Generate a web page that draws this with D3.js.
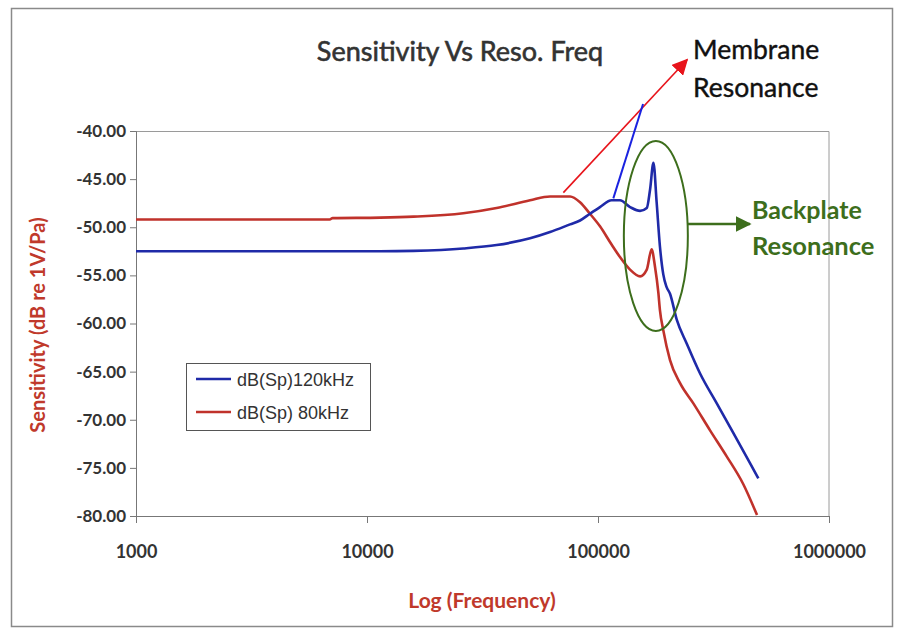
<!DOCTYPE html>
<html>
<head>
<meta charset="utf-8">
<script src="https://cdn.jsdelivr.net/npm/d3@7"></script>
<style>
  html, body { margin: 0; padding: 0; background: #fff; }
  svg { display: block; }
</style>
</head>
<body>
<svg id="chart" width="900" height="631"></svg>
<script>
// Frequency response of two microphone designs (sensitivity in dB re 1V/Pa)
const freq120 = [1000, 5000, 11400, 15900, 26100, 36400, 50800, 62000, 75700, 83600, 92300, 102000,
  114500, 124500, 137600, 152100, 162600, 168000, 173800, 179400, 185400, 191700, 198000, 205000,
  219200, 242300, 276600, 326700, 385700, 455000, 494400];
const db120 = [-52.5, -52.5, -52.5, -52.45, -52.2, -51.85, -51.15, -50.5, -49.7, -49.3, -48.6, -47.9,
  -47.2, -47.2, -47.9, -48.3, -48.0, -46.1, -43.3, -47.4, -52.0, -54.9, -56.2, -56.9,
  -59.6, -62.1, -65.2, -68.3, -71.4, -74.5, -76.1];

const freq80 = [1000, 6900, 7100, 11400, 15900, 26100, 36400, 50800, 62000, 75700, 83600, 92300,
  102000, 114500, 124500, 137600, 152100, 162600, 170600, 176500, 182500, 185400, 191700, 205000,
  226600, 258700, 305500, 360600, 425700, 488000];
const db80 = [-49.2, -49.2, -49.05, -49.0, -48.9, -48.55, -48.0, -47.2, -46.8, -46.8, -47.4, -48.6,
  -49.9, -51.8, -53.1, -54.4, -55.1, -54.4, -52.3, -54.1, -56.8, -58.6, -60.7, -63.8,
  -66.2, -68.3, -71.1, -73.8, -76.7, -79.9];

const seriesNames = ["dB(Sp)120kHz", "dB(Sp) 80kHz"];
const xTicks = [1000, 10000, 100000, 1000000];
const yTicks = [-40, -45, -50, -55, -60, -65, -70, -75, -80];

const blue = "#1f2aa8";
const red = "#c0322b";
const green = "#3d6e1c";
const labelRed = "#c0392b";

const svg = d3.select("#chart");
const margin = { left: 136, top: 131, right: 71, bottom: 115 };
const W = 900, H = 631;
const iw = W - margin.left - margin.right;
const ih = H - margin.top - margin.bottom;

// outer chart frame
svg.append("rect")
  .attr("x", 11.5).attr("y", 8.5).attr("width", 881).attr("height", 618)
  .attr("fill", "#fff").attr("stroke", "#8a8a8a").attr("stroke-width", 1.5);

const g = svg.append("g").attr("transform", `translate(${margin.left},${margin.top})`);

const x = d3.scaleLog().domain([1000, 1000000]).range([0, iw]);
const y = d3.scaleLinear().domain([-80, -40]).range([ih, 0]);

// plot area border (top and right)
g.append("path")
  .attr("d", `M0,0.5H${iw}V${ih}`)
  .attr("fill", "none").attr("stroke", "#9a9a9a").attr("stroke-width", 1);

// axes
const yAxis = d3.axisLeft(y).tickValues(yTicks).tickSize(6).tickPadding(4)
  .tickFormat(d => d.toFixed(2));
const gy = g.append("g").call(yAxis);
gy.select(".domain").attr("stroke", "#777");
gy.selectAll(".tick line").attr("stroke", "#777");
gy.selectAll(".tick text")
  .attr("fill", "#333").style("font-family", "Lato, 'Open Sans', sans-serif")
  .style("font-size", "17px").style("font-weight", "bold");

const xAxis = d3.axisBottom(x).tickValues(xTicks).tickSize(7).tickPadding(22)
  .tickFormat(d3.format("d"));
const gx = g.append("g").attr("transform", `translate(0,${ih})`).call(xAxis);
gx.select(".domain").attr("stroke", "#777");
gx.selectAll(".tick line").attr("stroke", "#777");
gx.selectAll(".tick text")
  .attr("fill", "#333").style("font-family", "Lato, 'Open Sans', sans-serif")
  .style("font-size", "18px").style("font-weight", "bold");

// series lines
const line = d3.line().x(d => x(d[0])).y(d => y(d[1])).curve(d3.curveMonotoneX);
const s120 = freq120.map((f, i) => [f, db120[i]]);
const s80 = freq80.map((f, i) => [f, db80[i]]);

g.append("path").datum(s80).attr("d", line)
  .attr("fill", "none").attr("stroke", red).attr("stroke-width", 2.6).attr("stroke-linejoin", "round");
g.append("path").datum(s120).attr("d", line)
  .attr("fill", "none").attr("stroke", blue).attr("stroke-width", 2.6).attr("stroke-linejoin", "round");

// title
svg.append("text").attr("x", 460).attr("y", 61).attr("text-anchor", "middle")
  .attr("fill", "#333").attr("stroke", "#333").attr("stroke-width", 0.6)
  .style("font-family", "Lato, sans-serif").style("font-size", "27px")
  .text("Sensitivity Vs Reso. Freq");

// axis titles
svg.append("text").attr("transform", "translate(45,325) rotate(-90)")
  .attr("text-anchor", "middle").attr("fill", labelRed)
  .style("font-family", "Lato, sans-serif").style("font-size", "20px").style("font-weight", "bold")
  .text("Sensitivity (dB re 1V/Pa)");
svg.append("text").attr("x", 482).attr("y", 608).attr("text-anchor", "middle")
  .attr("fill", labelRed)
  .style("font-family", "Lato, sans-serif").style("font-size", "21px").style("font-weight", "bold")
  .text("Log (Frequency)");

// legend
const lg = svg.append("g").attr("transform", "translate(186,363)");
lg.append("rect").attr("x", 0.5).attr("y", 0.5).attr("width", 184).attr("height", 67)
  .attr("fill", "#fff").attr("stroke", "#555").attr("stroke-width", 1);
[[blue, seriesNames[0], 16], [red, seriesNames[1], 49]].forEach(([c, t, yy]) => {
  lg.append("line").attr("x1", 10).attr("x2", 45).attr("y1", yy).attr("y2", yy)
    .attr("stroke", c).attr("stroke-width", 2.6);
  lg.append("text").attr("x", 51).attr("y", yy + 6.5).attr("fill", "#333")
    .style("font-family", "'Liberation Sans', Arial, sans-serif").style("font-size", "18px")
    .text(t);
});

// annotation: membrane resonance
const defs = svg.append("defs");
function arrowHead(id, color, size) {
  defs.append("marker").attr("id", id).attr("viewBox", "0 0 10 10")
    .attr("refX", 9).attr("refY", 5).attr("markerWidth", size).attr("markerHeight", size)
    .attr("markerUnits", "userSpaceOnUse").attr("orient", "auto")
    .append("path").attr("d", "M0,0L10,5L0,10Z").attr("fill", color);
}
arrowHead("arrRed", "#e8141b", 16);
arrowHead("arrGreen", green, 16);

const px = (f, d) => [margin.left + x(f), margin.top + y(d)];
const redStart = px(70800, -46.4);
const redEnd = px(243000, -32.6);
svg.append("line")
  .attr("x1", redStart[0]).attr("y1", redStart[1]).attr("x2", redEnd[0]).attr("y2", redEnd[1])
  .attr("stroke", "#e8141b").attr("stroke-width", 1.6).attr("marker-end", "url(#arrRed)");

const blueStart = px(116500, -47.0);
const blueEnd = px(156700, -37.2);
svg.append("line")
  .attr("x1", blueStart[0]).attr("y1", blueStart[1]).attr("x2", blueEnd[0]).attr("y2", blueEnd[1])
  .attr("stroke", "#1a22e0").attr("stroke-width", 2);

svg.append("text").attr("x", 693).attr("y", 59).attr("fill", "#111")
  .attr("stroke", "#111").attr("stroke-width", 0.4)
  .style("font-family", "Lato, sans-serif").style("font-size", "26.5px").text("Membrane");
svg.append("text").attr("x", 693).attr("y", 97).attr("fill", "#111")
  .attr("stroke", "#111").attr("stroke-width", 0.4)
  .style("font-family", "Lato, sans-serif").style("font-size", "26.5px").text("Resonance");

// annotation: backplate resonance
const ec = px(178000, -50.9);
svg.append("ellipse").attr("cx", ec[0]).attr("cy", ec[1]).attr("rx", 32).attr("ry", 95)
  .attr("fill", "none").attr("stroke", green).attr("stroke-width", 2);
svg.append("line").attr("x1", ec[0] + 32).attr("y1", 224).attr("x2", 750).attr("y2", 224)
  .attr("stroke", green).attr("stroke-width", 2.5).attr("marker-end", "url(#arrGreen)");
svg.append("text").attr("x", 752).attr("y", 219).attr("fill", green)
  .style("font-family", "Lato, sans-serif").style("font-size", "25px").style("font-weight", "bold")
  .text("Backplate");
svg.append("text").attr("x", 752).attr("y", 255).attr("fill", green)
  .style("font-family", "Lato, sans-serif").style("font-size", "25.5px").style("font-weight", "bold")
  .text("Resonance");
</script>
</body>
</html>
